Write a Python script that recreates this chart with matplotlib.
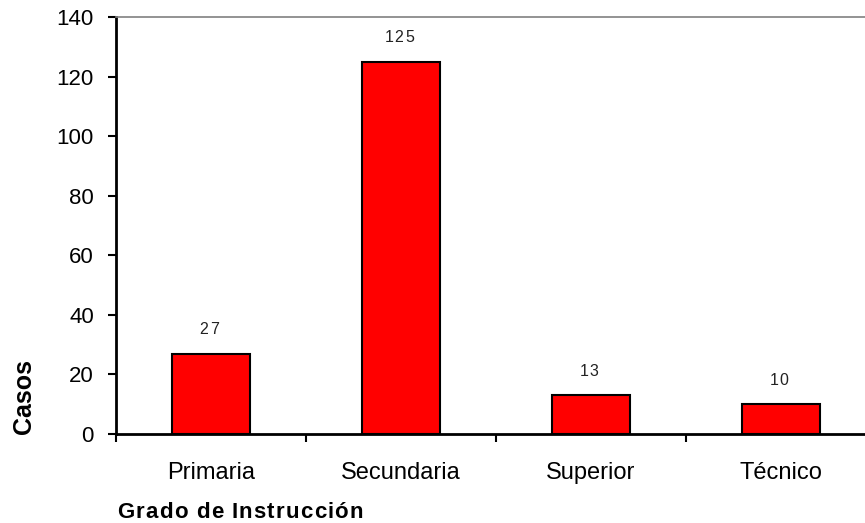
import matplotlib
matplotlib.use("Agg")
import matplotlib.pyplot as plt

plt.rcParams['font.family'] = ['Liberation Sans', 'DejaVu Sans']

# data
categorias = ["Primaria", "Secundaria", "Superior", "Técnico"]
casos = [27, 125, 13, 10]
y_ticks = [0, 20, 40, 60, 80, 100, 120, 140]

W, H = 865, 523
fig = plt.figure(figsize=(W / 100, H / 100), dpi=100)
fig.patch.set_facecolor('white')
# axes runs a bit past the right edge, as in the reference
ax = fig.add_axes([116 / W, 89 / H, 760 / W, 417 / H])
renderer = fig.canvas.get_renderer()


def text_width(s, **kw):
    t = fig.text(0, 0, s, **kw)
    w = t.get_window_extent(renderer).width
    t.remove()
    return w


def tracked_text(x_px, y_px, s, track, ha='left', **kw):
    """Write s char by char with extra spacing (pixels) between letters."""
    space_w = text_width("a a", **kw) - text_width("aa", **kw)
    widths = [space_w if c == " " else text_width(c, **kw) for c in s]
    total = sum(widths) + track * (len(s) - 1)
    x = x_px - (total / 2 if ha == 'center' else 0)
    for c, w in zip(s, widths):
        if c != " ":
            fig.text(x / W, y_px / H, c, ha='left', va='center', **kw)
        x += w + track


x = list(range(len(categorias)))
ax.bar(x, casos, width=0.41, color='#FF0000', edgecolor='black', linewidth=1.5, zorder=3)

ax.set_xlim(-0.5, len(categorias) - 0.5)
ax.set_ylim(0, 140)
ax.set_yticks(y_ticks)
ax.tick_params(axis='y', direction='out', length=6, width=1.5, labelsize=16, pad=10)

# category ticks at boundaries, labels centered
ax.set_xticks([i - 0.5 for i in range(len(categorias) + 1)])
ax.set_xticklabels([])
ax.set_xticks(x, minor=True)
ax.set_xticklabels(categorias, minor=True)
ax.tick_params(axis='x', which='major', direction='out', length=6, width=1.5)
ax.tick_params(axis='x', which='minor', length=0, labelsize=17, pad=20)

for s in ['left', 'bottom']:
    ax.spines[s].set_linewidth(2)
ax.spines['top'].set_color('#808080')
ax.spines['top'].set_linewidth(1.2)
ax.spines['right'].set_visible(False)

# value labels above bars, slightly letter-spaced
for xi, v in zip(x, casos):
    px, py = ax.transData.transform((xi, v))
    tracked_text(px - 2, py + 24, str(v), 1.5, ha='center', fontsize=11.5, color='#222222')

fig.text(24 / W, 1 - 396 / H, "Casos", rotation=90, ha='center', va='center',
         fontsize=18, fontweight='bold')
tracked_text(117, H - 513, "Grado de Instrucción", 1.2, fontsize=16, fontweight='bold')

fig.savefig("out.png", dpi=100)
